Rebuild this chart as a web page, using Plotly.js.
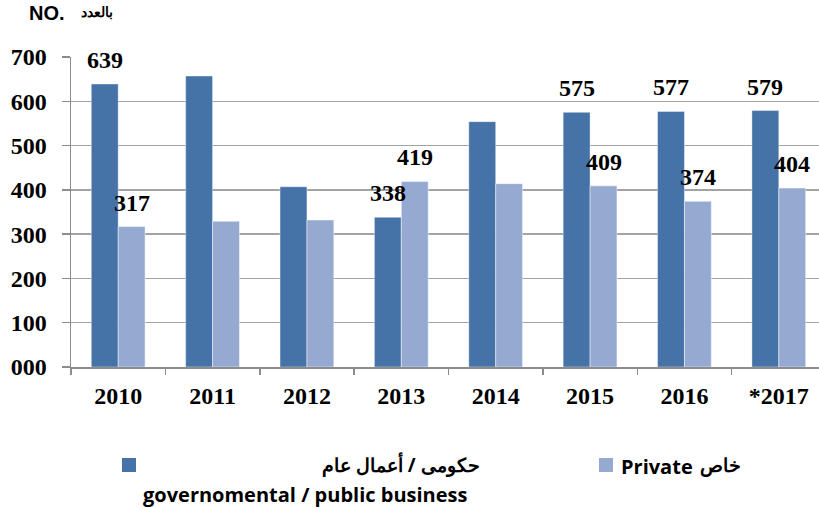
<!DOCTYPE html>
<html>
<head>
<meta charset="utf-8">
<script src="https://cdn.plot.ly/plotly-3.0.1.min.js"></script>
<style>
html,body{margin:0;padding:0;overflow:hidden;background:#fff;}
#chart{width:826px;height:508px;}
</style>
</head>
<body>
<div id="chart"></div>
<script>
// ---- data ----
const years = ['2010','2011','2012','2013','2014','2015','2016','*2017'];
const govValues = [639, 657, 407, 338, 554, 575, 577, 579];
const privateValues = [317, 329, 332, 419, 414, 409, 374, 404];
const govLabelled = ['2010','2013','2015','2016','*2017'];
const privateLabelled = ['2010','2013','2015','2016','*2017'];
const yTickVals = [0,100,200,300,400,500,600,700];
const yTickText = ['000','100','200','300','400','500','600','700'];
const govNameAr = 'حكومى / أعمال عام';
const govNameEn = 'governomental / public business';
const privateNameEn = 'Private';
const privateNameAr = 'خاص';

const govColor = '#4572A7';
const privColor = '#95A9D1';
const bargap = 0.43;
const barW = (1 - bargap) / 2;

const numFont = {family:'"Liberation Serif", "Times New Roman", serif', size:24, color:'#000', weight:'bold'};

const traces = [
  {type:'bar', name:govNameAr + ' ' + govNameEn, x:years, y:govValues, marker:{color:govColor, line:{color:'rgba(255,255,255,0.5)', width:0.8}}, hoverinfo:'x+y'},
  {type:'bar', name:privateNameEn + ' ' + privateNameAr, x:years, y:privateValues, marker:{color:privColor, line:{color:'rgba(255,255,255,0.6)', width:0.8}}, hoverinfo:'x+y'}
];

const annotations = [];
years.forEach((yr, i) => {
  if (govLabelled.includes(yr)) {
    annotations.push({x: i - barW/2, y: govValues[i], xref:'x', yref:'y', text:String(govValues[i]),
      showarrow:false, yanchor:'middle', yshift:24, font:numFont});
  }
  if (privateLabelled.includes(yr)) {
    annotations.push({x: i + barW/2, y: privateValues[i], xref:'x', yref:'y', text:String(privateValues[i]),
      showarrow:false, yanchor:'middle', yshift:24, font:numFont});
  }
});

// unit title
annotations.push({xref:'paper', yref:'paper', x:0, y:1, text:'<b>NO.</b>', showarrow:false,
  xanchor:'left', yanchor:'middle', xshift:-44, yshift:44, font:{family:'"Liberation Sans", Arial, sans-serif', size:20, color:'#000'}});
annotations.push({xref:'paper', yref:'paper', x:0, y:1, text:'<b>بالعدد</b>', showarrow:false,
  xanchor:'left', yanchor:'middle', xshift:8, yshift:45, font:{family:'"Liberation Sans", Arial, sans-serif', size:14, color:'#000'}});

// legend (custom, below the plot)
const legFont = {family:'"Open Sans", "Noto Sans", sans-serif', size:20, color:'#000', weight:'bold'};
const legFontAr = {family:'"Open Sans", "Noto Sans", sans-serif', size:19, color:'#000', weight:'bold'};
annotations.push({xref:'paper', yref:'paper', x:0, y:0, text:govNameAr, showarrow:false,
  xanchor:'right', yanchor:'middle', xshift:411, yshift:-98, font:legFontAr});
annotations.push({xref:'paper', yref:'paper', x:0, y:0, text:govNameEn, showarrow:false,
  xanchor:'left', yanchor:'middle', xshift:71, yshift:-127, borderpad:0, font:legFont});
annotations.push({xref:'paper', yref:'paper', x:0, y:0, text:privateNameEn, showarrow:false,
  xanchor:'left', yanchor:'middle', xshift:548, yshift:-99, font:legFont});
annotations.push({xref:'paper', yref:'paper', x:0, y:0, text:privateNameAr, showarrow:false,
  xanchor:'right', yanchor:'middle', xshift:672, yshift:-98, font:legFontAr});

const shapes = [
  {type:'rect', xref:'paper', yref:'paper', xsizemode:'pixel', ysizemode:'pixel',
   xanchor:0, yanchor:0, x0:51, x1:65, y0:-105, y1:-91, fillcolor:govColor, line:{width:0}},
  {type:'rect', xref:'paper', yref:'paper', xsizemode:'pixel', ysizemode:'pixel',
   xanchor:0, yanchor:0, x0:528, x1:542, y0:-105, y1:-91, fillcolor:privColor, line:{width:0}}
];

const layout = {
  width:826, height:508,
  margin:{l:71, r:0, t:57, b:141},
  paper_bgcolor:'#fff', plot_bgcolor:'#fff',
  barmode:'group', bargap:bargap, bargroupgap:0,
  showlegend:false,
  xaxis:{type:'category', showline:true, linecolor:'#8c8c8c', linewidth:1.5,
    ticks:'outside', tickson:'boundaries', ticklen:6, tickcolor:'#8c8c8c', tickwidth:1.5,
    tickfont:numFont, ticklabelstandoff:7, showgrid:false, fixedrange:true},
  yaxis:{range:[0,700], tickvals:yTickVals, ticktext:yTickText, showline:true, linecolor:'#8c8c8c', linewidth:1.5,
    ticks:'outside', ticklen:8, tickcolor:'#8c8c8c', tickwidth:1.5, tickfont:numFont, ticklabelstandoff:10,
    showgrid:true, gridcolor:'#a3a3a3', gridwidth:1.5, zeroline:false, fixedrange:true},
  annotations:annotations,
  shapes:shapes,
  font:{family:'"Liberation Serif", serif'}
};

Plotly.newPlot('chart', traces, layout, {displayModeBar:false, staticPlot:true});
</script>
</body>
</html>
